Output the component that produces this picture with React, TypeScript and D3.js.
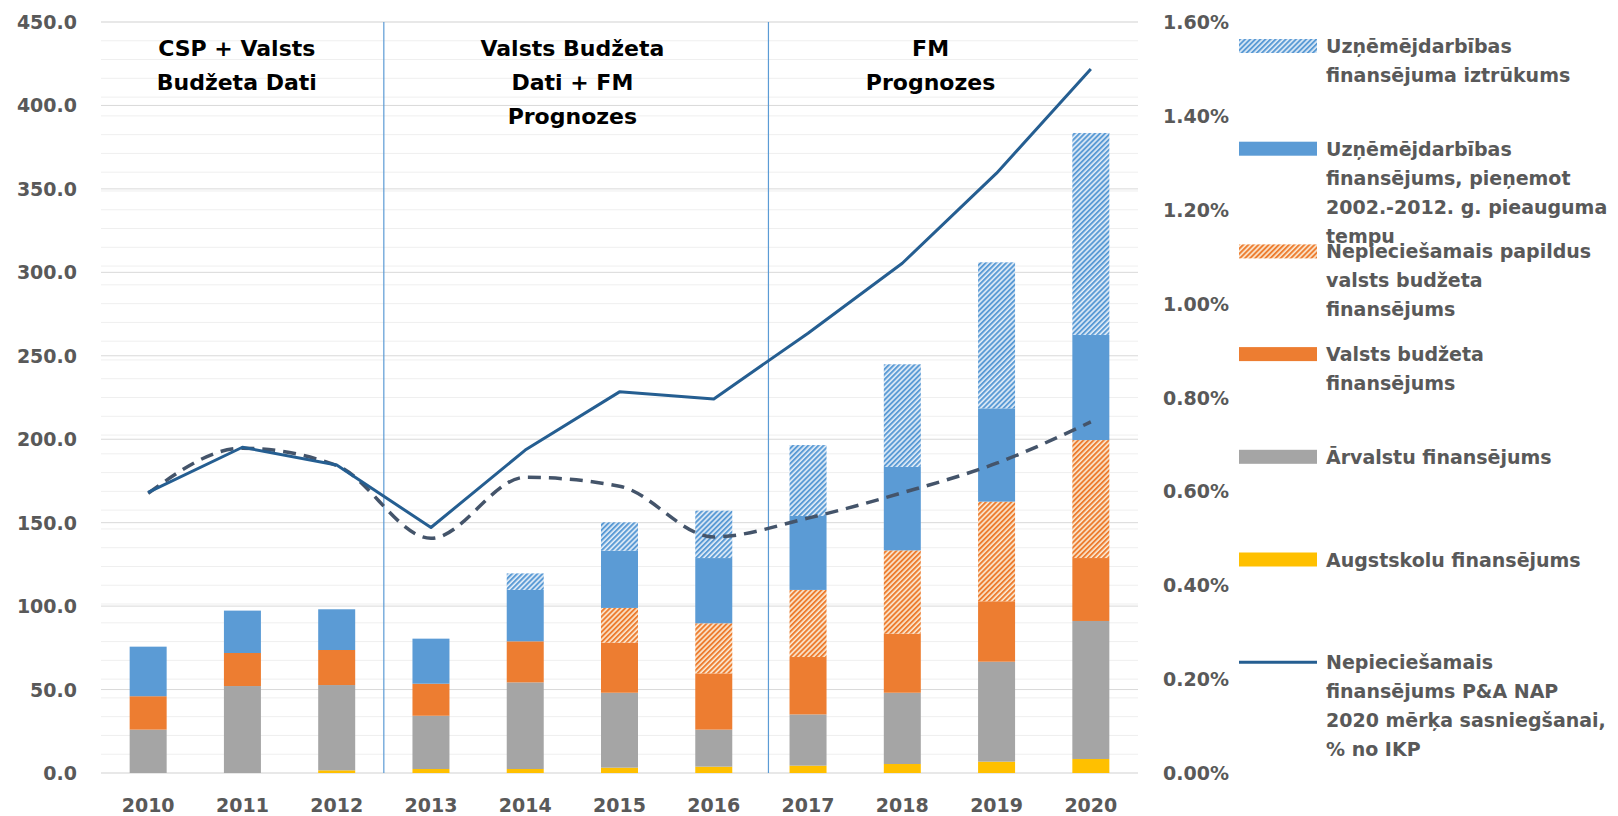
import React from "react";
import * as d3 from "d3";

const years = ["2010","2011","2012","2013","2014","2015","2016","2017","2018","2019","2020"];
const augstskolu = [0, 0, 1.6, 2.4, 2.4, 3.2, 3.8, 4.4, 5.4, 6.8, 8.4];
const arvalstu = [26.0, 52.1, 51.1, 31.9, 51.9, 44.9, 22.2, 30.7, 42.7, 59.9, 82.7];
const valstsBudzeta = [20.0, 19.8, 21.0, 19.2, 24.6, 30.0, 33.7, 34.4, 35.4, 36.2, 37.7];
const papildusBudzeta = [0, 0, 0, 0, 0, 20.8, 30.0, 40.2, 49.9, 59.7, 70.7];
const uznemejdarbibas = [29.7, 25.4, 24.4, 27.0, 30.8, 34.3, 39.1, 44.3, 50.0, 55.9, 63.0];
const iztrukums = [0, 0, 0, 0, 9.9, 17.0, 28.4, 42.5, 61.5, 87.5, 121.0];
const nepieciesamais = [0.598, 0.694, 0.656, 0.523, 0.688, 0.812, 0.797, 0.937, 1.086, 1.278, 1.50];
const faktiskais = [0.596, 0.692, 0.655, 0.500, 0.630, 0.611, 0.503, 0.543, 0.597, 0.660, 0.748];
const leftTicks = [0, 50, 100, 150, 200, 250, 300, 350, 400, 450];
const rightTicks = [0, 0.2, 0.4, 0.6, 0.8, 1.0, 1.2, 1.4, 1.6];
const headers = [
  { pos: 0.94, lines: ["CSP + Valsts", "Budžeta Dati"] },
  { pos: 4.5, lines: ["Valsts Budžeta", "Dati + FM", "Prognozes"] },
  { pos: 8.3, lines: ["FM", "Prognozes"] },
];
const separators = [2.5, 6.58];

const series = [
  { key: "augstskolu", values: augstskolu, fill: "#FFC000" },
  { key: "arvalstu", values: arvalstu, fill: "#A5A5A5" },
  { key: "valsts", values: valstsBudzeta, fill: "#ED7D31" },
  { key: "papildus", values: papildusBudzeta, fill: "url(#hatchOrange)" },
  { key: "uzn", values: uznemejdarbibas, fill: "#5B9BD5" },
  { key: "izt", values: iztrukums, fill: "url(#hatchBlue)" },
];

const legendItems = [
  { type: "rect", fill: "url(#hatchBlue)", lines: ["Uzņēmējdarbības", "finansējuma iztrūkums"] },
  { type: "rect", fill: "#5B9BD5", lines: ["Uzņēmējdarbības", "finansējums, pieņemot", "2002.-2012. g. pieauguma", "tempu"] },
  { type: "rect", fill: "url(#hatchOrange)", lines: ["Nepieciešamais papildus", "valsts budžeta", "finansējums"] },
  { type: "rect", fill: "#ED7D31", lines: ["Valsts budžeta", "finansējums"] },
  { type: "rect", fill: "#A5A5A5", lines: ["Ārvalstu finansējums"] },
  { type: "rect", fill: "#FFC000", lines: ["Augstskolu finansējums"] },
  { type: "line", fill: "#255E91", lines: ["Nepieciešamais", "finansējums P&A NAP", "2020 mērķa sasniegšanai,", "% no IKP"] },
];

const W = 1618, H = 816;
const L = 101, R = 1138, T = 22, B = 773;
const FONT = "'DejaVu Sans', Verdana, sans-serif";
const GRAY = "#595959";

export default function App() {
  const x = d3.scaleBand<string>().domain(years).range([L, R]).paddingInner(0.6075).paddingOuter(0.304);
  const bw = x.bandwidth();
  const cx = (i: number) => (x(years[i]) as number) + bw / 2;
  const idx = d3.scaleLinear().domain([0, years.length - 1]).range([cx(0), cx(years.length - 1)]);
  const yL = d3.scaleLinear().domain([0, 450]).range([B, T]);
  const yR = d3.scaleLinear().domain([0, 1.6]).range([B, T]);
  const minor = d3.range(0, 40.5, 1).map((k) => k * 0.04);

  const rows = years.map((y, i) => {
    const o: any = { year: y };
    series.forEach((s) => (o[s.key] = s.values[i]));
    return o;
  });
  const stacked = d3.stack().keys(series.map((s) => s.key))(rows);

  const solidLine = d3.line<number>().x((_, i) => cx(i)).y((d) => yR(d));
  const dashLine = d3.line<number>().x((_, i) => cx(i)).y((d) => yR(d)).curve(d3.curveMonotoneX);

  const legX = 1239, legW = 78, legTextX = 1326, legY0 = 46, legStep = 102.7, lineH = 29;

  const hatch = (id: string, color: string, bg: string) => (
    <pattern id={id} patternUnits="userSpaceOnUse" width="3.6" height="3.6" patternTransform="rotate(45)">
      <rect width="3.6" height="3.6" fill={bg} />
      <rect width="2" height="3.6" fill={color} />
    </pattern>
  );

  return (
    <svg width={W} height={H} style={{ position: "absolute", left: 0, top: 0, background: "#fff" }}>
      <defs>
        {hatch("hatchBlue", "#5B9BD5", "#E4EEF8")}
        {hatch("hatchOrange", "#ED7D31", "#FBEBD5")}
      </defs>
      {minor.map((v, i) => (
        <line key={"m" + i} x1={L} x2={R} y1={yR(v)} y2={yR(v)} stroke="#EFEFEF" strokeWidth={1} />
      ))}
      {leftTicks.map((v) => (
        <line key={"g" + v} x1={L} x2={R} y1={yL(v)} y2={yL(v)} stroke="#D9D9D9" strokeWidth={1} />
      ))}
      {stacked.map((layer, li) => (
        <g key={layer.key} fill={series[li].fill}>
          {layer.map((d, i) =>
            d[1] - d[0] > 0 ? (
              <rect key={i} x={x(years[i])} width={bw} y={yL(d[1])} height={yL(d[0]) - yL(d[1])} />
            ) : null
          )}
        </g>
      ))}
      {separators.map((s, i) => (
        <line key={"s" + i} x1={idx(s)} x2={idx(s)} y1={T} y2={B} stroke="#5B9BD5" strokeWidth={1.2} />
      ))}
      <path d={dashLine(faktiskais) || ""} fill="none" stroke="#44546A" strokeWidth={3.5} strokeDasharray="13 8" />
      <path d={solidLine(nepieciesamais) || ""} fill="none" stroke="#255E91" strokeWidth={3} strokeLinejoin="round" />
      {headers.map((h, i) => (
        <text key={"h" + i} x={idx(h.pos)} y={48} textAnchor="middle" fontFamily={FONT} fontWeight="bold" fontSize={22} fill="#000">
          {h.lines.map((ln, k) => (
            <tspan key={k} x={idx(h.pos)} y={48 + k * 34} dominantBaseline="central">{ln}</tspan>
          ))}
        </text>
      ))}
      {leftTicks.map((v) => (
        <text key={"l" + v} x={77} y={yL(v)} textAnchor="end" dominantBaseline="central" fontFamily={FONT} fontWeight="bold" fontSize={19} fill={GRAY}>
          {v.toFixed(1)}
        </text>
      ))}
      {rightTicks.map((v) => (
        <text key={"r" + v} x={1163} y={yR(v)} textAnchor="start" dominantBaseline="central" fontFamily={FONT} fontWeight="bold" fontSize={19} fill={GRAY}>
          {v.toFixed(2) + "%"}
        </text>
      ))}
      {years.map((yv, i) => (
        <text key={"x" + yv} x={cx(i)} y={805} textAnchor="middle" dominantBaseline="central" fontFamily={FONT} fontWeight="bold" fontSize={19} fill={GRAY}>
          {yv}
        </text>
      ))}
      {legendItems.map((it, i) => {
        const cy = legY0 + i * legStep;
        return (
          <g key={"lg" + i}>
            {it.type === "rect" ? (
              <rect x={legX} y={cy - 7} width={legW} height={14} fill={it.fill} />
            ) : (
              <line x1={legX} x2={legX + legW} y1={cy} y2={cy} stroke={it.fill} strokeWidth={3} />
            )}
            <text fontFamily={FONT} fontWeight="bold" fontSize={19} fill={GRAY}>
              {it.lines.map((ln, k) => (
                <tspan key={k} x={legTextX} y={cy + k * lineH} dominantBaseline="central">{ln}</tspan>
              ))}
            </text>
          </g>
        );
      })}
    </svg>
  );
}
